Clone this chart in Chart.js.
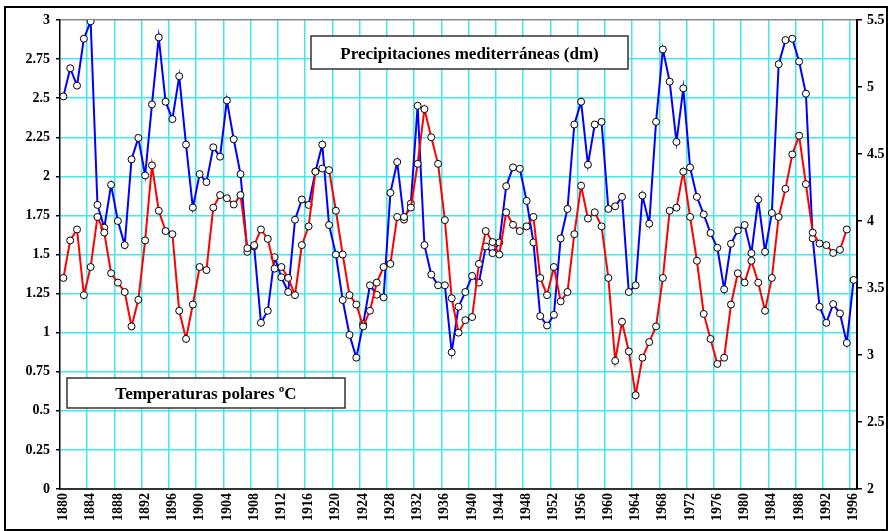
<!DOCTYPE html>
<html>
<head>
<meta charset="utf-8">
<script src="https://cdn.jsdelivr.net/npm/chart.js@4.4.1/dist/chart.umd.min.js"></script>
<style>
  html, body { margin: 0; padding: 0; background: #fff; }
  #wrap { width: 889px; height: 531px; }
</style>
</head>
<body>
<div id="wrap"><canvas id="myChart" width="889" height="531"></canvas></div>
<script>
// years on the category axis
const years = [
  1880,1881,1882,1883,1884,1885,1886,1887,1888,1889,
  1890,1891,1892,1893,1894,1895,1896,1897,1898,1899,
  1900,1901,1902,1903,1904,1905,1906,1907,1908,1909,
  1910,1911,1912,1913,1914,1915,1916,1917,1918,1919,
  1920,1921,1922,1923,1924,1925,1926,1927,1928,1929,
  1930,1931,1932,1933,1934,1935,1936,1937,1938,1939,
  1940,1941,1942,1943,1944,1945,1946,1947,1948,1949,
  1950,1951,1952,1953,1954,1955,1956,1957,1958,1959,
  1960,1961,1962,1963,1964,1965,1966,1967,1968,1969,
  1970,1971,1972,1973,1974,1975,1976,1977,1978,1979,
  1980,1981,1982,1983,1984,1985,1986,1987,1988,1989,
  1990,1991,1992,1993,1994,1995,1996
];

// Temperaturas polares (left axis)
const tempPolares = [
  1.35,1.59,1.66,1.24,1.42,1.74,1.64,1.38,1.32,1.26,
  1.04,1.21,1.59,2.07,1.78,1.65,1.63,1.14,0.96,1.18,
  1.42,1.40,1.80,1.88,1.86,1.82,1.88,1.54,1.56,1.66,
  1.60,1.41,1.42,1.35,1.24,1.56,1.68,2.03,2.05,2.04,
  1.78,1.50,1.24,1.18,1.04,1.14,1.32,1.42,1.44,1.74,
  1.74,1.80,2.08,2.43,2.25,2.08,1.72,1.22,1.00,1.08,
  1.10,1.44,1.65,1.58,1.50,1.77,1.69,1.65,1.68,1.74,
  1.35,1.24,1.42,1.20,1.26,1.63,1.94,1.73,1.77,1.68,
  1.35,0.82,1.07,0.88,0.60,0.84,0.94,1.04,1.35,1.78,
  1.80,2.03,1.74,1.46,1.12,0.96,0.80,0.84,1.18,1.38,
  1.32,1.46,1.32,1.14,1.35,1.74,1.92,2.14,2.26,1.95,
  1.64,1.57,1.56,1.51,1.53,1.66,null
];

// Precipitaciones mediterraneas, dm (right axis)
const precipMed = [
  4.93,5.14,5.01,5.36,5.49,4.12,3.95,4.27,4.00,3.82,
  4.46,4.62,4.34,4.87,5.37,4.89,4.76,5.08,4.57,4.10,
  4.35,4.29,4.55,4.48,4.90,4.61,4.35,3.77,3.81,3.24,
  3.33,3.73,3.58,3.47,4.01,4.16,4.12,4.37,4.57,3.97,
  3.75,3.41,3.15,2.98,3.23,3.52,3.45,3.43,4.21,4.44,
  4.01,4.13,4.86,3.82,3.60,3.52,3.52,3.02,3.36,3.47,
  3.59,3.54,3.81,3.76,3.84,4.26,4.40,4.39,4.15,3.84,
  3.29,3.22,3.30,3.87,4.09,4.72,4.89,4.42,4.72,4.74,
  4.09,4.11,4.18,3.47,3.52,4.19,3.98,4.74,5.28,5.04,
  4.59,4.99,4.40,4.18,4.05,3.91,3.80,3.49,3.83,3.93,
  3.97,3.76,4.16,3.77,4.06,5.17,5.35,5.36,5.19,4.95,
  3.87,3.36,3.24,3.38,3.31,3.09,3.56
];

const labelTemp = 'Temperaturas polares ºC';
const labelPrec = 'Precipitaciones mediterráneas (dm)';

const CYAN = '#3fe9ec';
const FONT = "'Liberation Serif', 'Times New Roman', serif";
const tickFont = { family: FONT, size: 14, weight: 'bold' };
const plainNum = (v) => String(Math.round(v * 100) / 100);

const decor = {
  id: 'decor',
  beforeDraw(chart) {
    const c = chart.ctx;
    c.save();
    c.fillStyle = '#fff';
    c.fillRect(0, 0, chart.width, chart.height);
    c.restore();
  },
  afterDraw(chart) {
    const c = chart.ctx;
    c.save();
    // outer frame
    c.strokeStyle = '#000';
    c.lineWidth = 2;
    c.strokeRect(5, 7, 882, 523);
    // caption boxes
    function box(x, y, w, h, text) {
      c.fillStyle = '#fff';
      c.fillRect(x, y, w, h);
      c.strokeStyle = '#333';
      c.lineWidth = 1.5;
      c.strokeRect(x, y, w, h);
      c.fillStyle = '#000';
      c.font = 'bold 17px ' + FONT;
      c.textAlign = 'center';
      c.textBaseline = 'middle';
      c.fillText(text, x + w / 2, y + h / 2 + 2);
    }
    box(311, 36, 317, 33, labelPrec);
    box(67, 378, 278, 30, labelTemp);
    c.restore();
  }
};

new Chart(document.getElementById('myChart'), {
  type: 'line',
  data: {
    labels: years,
    datasets: [
      {
        label: labelTemp,
        data: tempPolares,
        yAxisID: 'y',
        borderColor: '#ff0000',
        borderWidth: 2,
        pointRadius: 3.5,
        pointBackgroundColor: '#fff',
        pointBorderColor: '#000',
        pointBorderWidth: 1,
        tension: 0
      },
      {
        label: labelPrec,
        data: precipMed,
        yAxisID: 'y1',
        borderColor: '#0000ff',
        borderWidth: 2,
        pointRadius: 3.5,
        pointBackgroundColor: '#fff',
        pointBorderColor: '#000',
        pointBorderWidth: 1,
        tension: 0
      }
    ]
  },
  options: {
    responsive: false,
    animation: false,
    layout: { padding: { top: 20, left: 0, right: 0, bottom: 0 } },
    plugins: { legend: { display: false }, tooltip: { enabled: false } },
    scales: {
      x: {
        type: 'category',
        offset: true,
        grid: {
          offset: true,
          drawTicks: false,
          lineWidth: 1.5,
          color: (ctx) => (ctx.index > 0 && ctx.index % 4 === 0) ? CYAN : 'rgba(0,0,0,0)'
        },
        border: { color: '#333', width: 2 },
        ticks: {
          autoSkip: false,
          minRotation: 90,
          maxRotation: 90,
          padding: 4,
          color: '#000',
          font: tickFont,
          callback: function (v, i) { return i % 4 === 0 ? this.getLabelForValue(v) : ''; }
        },
        afterFit: (s) => { s.height = 42; }
      },
      y: {
        position: 'left',
        min: 0,
        max: 3,
        ticks: { stepSize: 0.25, color: '#000', font: tickFont, padding: 6, callback: plainNum },
        grid: {
          lineWidth: 1.5,
          color: (ctx) => (ctx.tick && ctx.tick.value === 3) ? '#888' : CYAN,
          tickColor: '#000',
          tickLength: 4
        },
        border: { color: '#000', width: 1.5 },
        afterFit: (s) => { s.width = 60; }
      },
      y1: {
        position: 'right',
        min: 2,
        max: 5.5,
        ticks: { stepSize: 0.5, color: '#000', font: tickFont, padding: 5, callback: plainNum },
        grid: { drawOnChartArea: false, tickColor: '#000', tickLength: 5, lineWidth: 1.5 },
        border: { color: '#000', width: 2 },
        afterFit: (s) => { s.width = 32; }
      }
    }
  },
  plugins: [decor]
});
</script>
</body>
</html>
